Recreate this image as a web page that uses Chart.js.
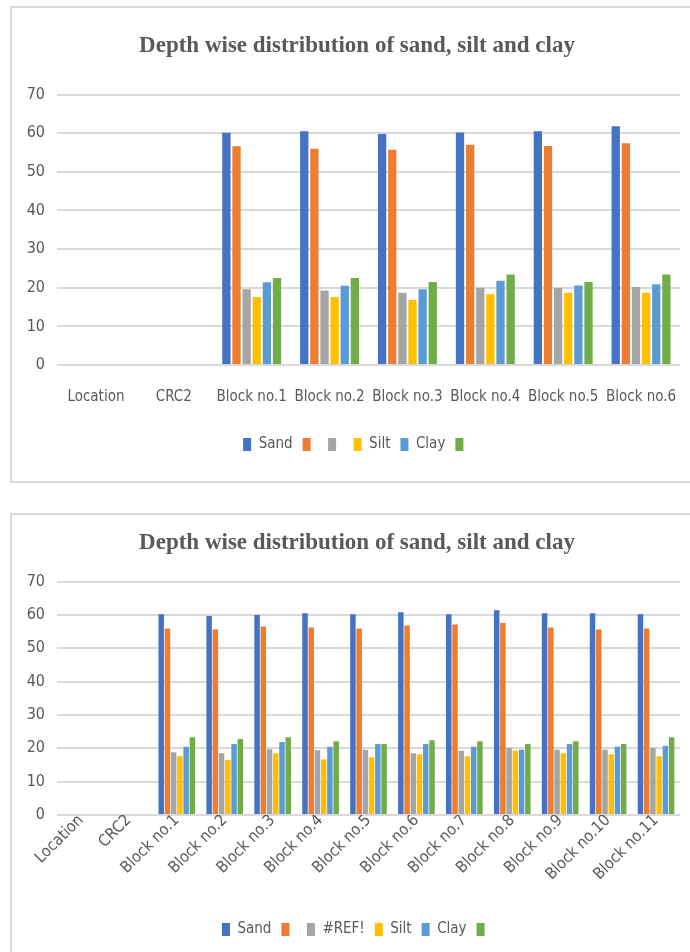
<!DOCTYPE html>
<html>
<head>
<meta charset="utf-8">
<script src="https://cdn.jsdelivr.net/npm/chart.js@4.4.1/dist/chart.umd.min.js"></script>
<style>
  html, body { margin: 0; padding: 0; background: #fff; overflow: hidden; width: 690px; height: 952px; }
  .box { position: absolute; border: 2px solid #d9d9d9; background: #fff; }
  #box1 { left: 10px; top: 6px; width: 700px; height: 473px; }
  #box2 { left: 10px; top: 513px; width: 700px; height: 460px; }
  canvas { position: absolute; left: 0; top: 0; }
</style>
</head>
<body>
<div class="box" id="box1"><canvas id="chart-top" width="690" height="473"></canvas></div>
<div class="box" id="box2"><canvas id="chart-bottom" width="690" height="440"></canvas></div>
<script>
// --- data: first chart (Block no.1 - 6) ---
const topCategories = ['Location', 'CRC2', 'Block no.1', 'Block no.2', 'Block no.3', 'Block no.4', 'Block no.5', 'Block no.6'];
const topLabels = ['Sand', '', '', 'Silt', 'Clay', ''];
const topSand   = [null, null, 60.1, 60.5, 59.8, 60.2, 60.5, 61.8];
const topOrange = [null, null, 56.6, 56.0, 55.7, 57.0, 56.7, 57.4];
const topGray   = [null, null, 19.6, 19.3, 18.7, 20.0, 20.0, 20.2];
const topSilt   = [null, null, 17.6, 17.6, 16.8, 18.3, 18.7, 18.7];
const topClay   = [null, null, 21.4, 20.5, 19.6, 21.8, 20.6, 20.9];
const topGreen  = [null, null, 22.5, 22.5, 21.5, 23.4, 21.5, 23.4];

// --- data: second chart (Block no.1 - 11) ---
const botCategories = ['Location', 'CRC2', 'Block no.1', 'Block no.2', 'Block no.3', 'Block no.4', 'Block no.5',
  'Block no.6', 'Block no.7', 'Block no.8', 'Block no.9', 'Block no.10', 'Block no.11'];
const botLabels = ['Sand', '', '#REF!', 'Silt', 'Clay', ''];
const botSand   = [null, null, 60.2, 59.7, 60.0, 60.5, 60.2, 60.8, 60.2, 61.4, 60.5, 60.5, 60.2];
const botOrange = [null, null, 55.9, 55.6, 56.5, 56.2, 55.9, 56.8, 57.1, 57.6, 56.2, 55.6, 55.9];
const botGray   = [null, null, 18.8, 18.5, 19.7, 19.4, 19.6, 18.5, 19.3, 20.2, 19.6, 19.6, 20.2];
const botSilt   = [null, null, 17.7, 16.5, 18.5, 16.7, 17.3, 18.2, 17.6, 19.3, 18.5, 18.2, 17.6];
const botClay   = [null, null, 20.5, 21.3, 21.9, 20.5, 21.3, 21.3, 20.5, 19.6, 21.3, 20.5, 20.8];
const botGreen  = [null, null, 23.3, 22.8, 23.3, 22.1, 21.3, 22.4, 22.1, 21.3, 22.1, 21.3, 23.3];

const yTicks = [0, 10, 20, 30, 40, 50, 60, 70];

const colors = ['#4472C4', '#ED7D31', '#A5A5A5', '#FFC000', '#5B9BD5', '#70AD47'];
const textColor = '#595959';
const sansFamily = '"DejaVu Sans Condensed", "Liberation Sans", sans-serif';
const titleText = 'Depth wise distribution of sand, silt and clay';

function makeDatasets(labels, series, barPct) {
    return series.map(function(values, i) {
        return {
            label: labels[i],
            data: values,
            backgroundColor: colors[i],
            borderWidth: 0,
            barPercentage: barPct,
            categoryPercentage: 0.78
        };
    });
}

function buildChart(id, cfg) {
    const ctx = document.getElementById(id).getContext('2d');
    return new Chart(ctx, {
        type: 'bar',
        data: {
            labels: cfg.categories,
            datasets: makeDatasets(cfg.labels, cfg.series, cfg.barPct)
        },
        options: {
            responsive: false,
            animation: false,
            layout: { padding: { left: 0, right: 0, top: 0, bottom: cfg.bottomPad } },
            plugins: {
                title: {
                    display: true,
                    text: titleText,
                    color: textColor,
                    font: { family: '"Liberation Serif", "Times New Roman", serif', size: 23, weight: 'bold' },
                    padding: cfg.titlePad
                },
                legend: {
                    position: 'bottom',
                    labels: {
                        color: textColor,
                        font: { family: sansFamily, size: 15 },
                        boxWidth: 8,
                        boxHeight: 13,
                        padding: 10
                    }
                },
                tooltip: { enabled: false }
            },
            scales: {
                y: {
                    min: 0,
                    max: 70,
                    afterBuildTicks: function(scale) {
                        scale.ticks = yTicks.map(function(v) { return { value: v }; });
                    },
                    afterFit: function(scale) { scale.width = 45; },
                    border: { display: false },
                    grid: { color: '#d9d9d9', lineWidth: 2, drawTicks: false },
                    ticks: { color: textColor, font: { family: sansFamily, size: 16 }, padding: 12 }
                },
                // empty strip on the right: keeps the plot end at the same place as in the picture
                yRight: {
                    type: 'linear',
                    position: 'right',
                    min: 0,
                    max: 1,
                    afterFit: function(scale) { scale.width = 22; },
                    border: { display: false },
                    grid: { display: false },
                    ticks: { display: false }
                },
                x: {
                    afterFit: function(scale) { scale.height = cfg.xHeight; },
                    border: { display: false },
                    grid: { display: false, drawTicks: false },
                    ticks: {
                        color: textColor,
                        font: { family: sansFamily, size: cfg.xFont },
                        autoSkip: false,
                        padding: cfg.xPad,
                        minRotation: cfg.rot,
                        maxRotation: cfg.rot
                    }
                }
            }
        }
    });
}

buildChart('chart-top', {
    categories: topCategories,
    labels: topLabels,
    series: [topSand, topOrange, topGray, topSilt, topClay, topGreen],
    barPct: 0.82,
    titlePad: { top: 24, bottom: 35 },
    bottomPad: 19,
    xHeight: 62,
    xPad: 23,
    xFont: 15,
    rot: 0
});

buildChart('chart-bottom', {
    categories: botCategories,
    labels: botLabels,
    series: [botSand, botOrange, botGray, botSilt, botClay, botGreen],
    barPct: 0.88,
    titlePad: { top: 14, bottom: 25 },
    bottomPad: 8,
    xHeight: 97,
    xPad: -4,
    xFont: 16,
    rot: 45
});
</script>
</body>
</html>
